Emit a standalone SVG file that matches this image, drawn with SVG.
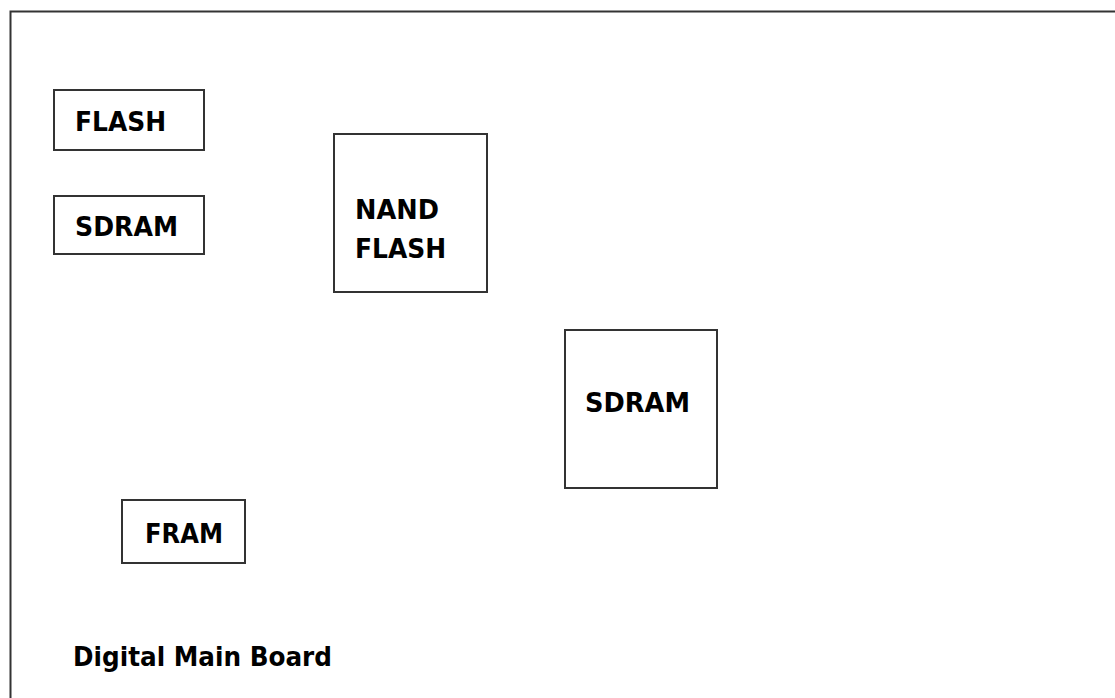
<svg xmlns="http://www.w3.org/2000/svg" width="1115" height="698" viewBox="0 0 1115 698">
<style>
.box{fill:#fff;stroke:#333;stroke-width:2}
.lbl{font-family:"DejaVu Sans",Verdana,sans-serif;font-weight:bold;font-size:26px;fill:#000}
</style>
<rect width="1115" height="698" fill="#fff"/>
<g id="board">
<rect x="10.5" y="11.5" width="1120" height="700" fill="none" stroke="#333" stroke-width="2"/>
<text class="lbl" x="73" y="666" textLength="259" lengthAdjust="spacingAndGlyphs">Digital Main Board</text>
</g>
<g id="flash">
<rect class="box" x="54" y="90" width="150" height="60"/>
<text class="lbl" x="75" y="131" textLength="91" lengthAdjust="spacingAndGlyphs">FLASH</text>
</g>
<g id="sdram1">
<rect class="box" x="54" y="196" width="150" height="58"/>
<text class="lbl" x="75" y="236" textLength="103" lengthAdjust="spacingAndGlyphs">SDRAM</text>
</g>
<g id="nandflash">
<rect class="box" x="334" y="134" width="153" height="158"/>
<text class="lbl" x="355" y="219" textLength="84" lengthAdjust="spacingAndGlyphs">NAND</text>
<text class="lbl" x="355" y="258" textLength="91" lengthAdjust="spacingAndGlyphs">FLASH</text>
</g>
<g id="sdram2">
<rect class="box" x="565" y="330" width="152" height="158"/>
<text class="lbl" x="585" y="412" textLength="105" lengthAdjust="spacingAndGlyphs">SDRAM</text>
</g>
<g id="fram">
<rect class="box" x="122" y="500" width="123" height="63"/>
<text class="lbl" x="145" y="543" textLength="78" lengthAdjust="spacingAndGlyphs">FRAM</text>
</g>
<g id="connectors"/>
</svg>
